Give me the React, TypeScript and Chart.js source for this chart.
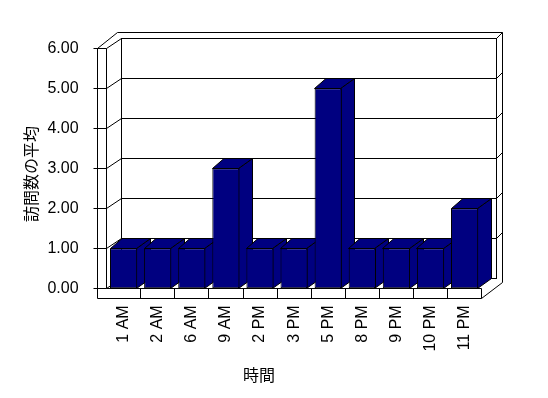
import React, { useEffect, useRef } from "react";
import { Chart, registerables } from "chart.js";

Chart.register(...registerables);

const CATEGORIES = ["1 AM", "2 AM", "6 AM", "9 AM", "2 PM", "3 PM", "5 PM", "8 PM", "9 PM", "10 PM", "11 PM"];
const VISITS = [1, 1, 1, 3, 1, 1, 5, 1, 1, 1, 2];
const Y_TICKS = [0, 1, 2, 3, 4, 5, 6];
const Y_TITLE = "訪問数の平均";
const X_TITLE = "時間";

// style constants
const BAR_COLOR = "#000080";
const DEPTH = { x: 14.7, y: -10 };
const THICK = { x: 6, y: -6 };
const WALL_W = 9.6;
const FLOOR_H = 9.7;
const BAR_DX_L = 11.5;
const BAR_DX_R = 14;
const BAR_DY = -10;
const TICK_FONT = { family: "Liberation Sans", size: 16 };

const px = (v: number) => Math.round(v - 0.5) + 0.5;

const threeD = {
  id: "threeD",
  beforeDatasetsDraw(chart: any) {
    const ctx = chart.ctx;
    const { left: L, right: R } = chart.chartArea;
    const ys = chart.scales.y;
    const xs = chart.scales.x;
    const yv = (v: number) => ys.getPixelForValue(v);
    const Tp = yv(Y_TICKS[Y_TICKS.length - 1]);
    const B = yv(Y_TICKS[0]);
    const xo = L - WALL_W;
    const FB = B + FLOOR_H;
    ctx.save();
    ctx.lineWidth = 1;
    ctx.strokeStyle = "#000";
    const line = (x1: number, y1: number, x2: number, y2: number) => {
      ctx.beginPath();
      ctx.moveTo(px(x1), px(y1));
      ctx.lineTo(px(x2), px(y2));
      ctx.stroke();
    };
    // back wall inner face
    ctx.strokeRect(px(L + DEPTH.x), px(Tp + DEPTH.y), px(R + DEPTH.x) - px(L + DEPTH.x), px(B + DEPTH.y) - px(Tp + DEPTH.y));
    // gridlines on back wall + left wall diagonals + right thickness diagonals
    Y_TICKS.forEach((v) => {
      const y = yv(v);
      line(L + DEPTH.x, y + DEPTH.y, R + DEPTH.x, y + DEPTH.y);
      line(L, y, L + DEPTH.x, y + DEPTH.y);
      if (v > 0) line(R + DEPTH.x, y + DEPTH.y, R + DEPTH.x + THICK.x, y + DEPTH.y + THICK.y);
      // tick + line across left wall front face
      line(xo - 4, y, L, y);
    });
    // outer top line
    line(xo + DEPTH.x + THICK.x, Tp + DEPTH.y + THICK.y, R + DEPTH.x + THICK.x, Tp + DEPTH.y + THICK.y);
    // left wall outer top diagonal
    line(xo, Tp, xo + DEPTH.x + THICK.x, Tp + DEPTH.y + THICK.y);
    // outer right vertical
    line(R + DEPTH.x + THICK.x, Tp + DEPTH.y + THICK.y, R + DEPTH.x + THICK.x, FB + DEPTH.y + THICK.y);
    // floor outer bottom right diagonal
    line(R, FB, R + DEPTH.x + THICK.x, FB + DEPTH.y + THICK.y);
    // front faces of left wall and floor
    line(xo, Tp, xo, FB);
    line(L, Tp, L, B);
    line(xo, FB, R, FB);
    line(L, B, R, B);
    line(R, B, R, FB);
    // category dividers on floor front face
    for (let i = 1; i < CATEGORIES.length; i++) {
      const x = (xs.getPixelForValue(i - 1) + xs.getPixelForValue(i)) / 2;
      line(x, B, x, FB);
    }
    // bar sides and tops
    const meta = chart.getDatasetMeta(0);
    ctx.fillStyle = BAR_COLOR;
    meta.data.forEach((el: any) => {
      const x0 = px(el.x - el.width / 2);
      const x1 = px(el.x + el.width / 2) - 1;
      const yt = px(el.y);
      const yb = px(el.base);
      // side
      ctx.beginPath();
      ctx.moveTo(x1, yt);
      ctx.lineTo(x1 + BAR_DX_R, yt + BAR_DY);
      ctx.lineTo(x1 + BAR_DX_R, yb + BAR_DY);
      ctx.lineTo(x1, yb);
      ctx.closePath();
      ctx.fill();
      ctx.stroke();
      // top
      ctx.beginPath();
      ctx.moveTo(x0, yt);
      ctx.lineTo(x1, yt);
      ctx.lineTo(x1 + BAR_DX_R, yt + BAR_DY);
      ctx.lineTo(x0 + BAR_DX_L, yt + BAR_DY);
      ctx.closePath();
      ctx.fill();
      ctx.stroke();
    });
    ctx.restore();
  },
  afterDraw(chart: any) {
    const ctx = chart.ctx;
    ctx.save();
    ctx.fillStyle = "#000";
    ctx.font = '16px "Noto Sans CJK JP"';
    ctx.textAlign = "center";
    ctx.textBaseline = "middle";
    ctx.fillText(X_TITLE, 259, 375);
    ctx.translate(31, 174);
    ctx.rotate(-Math.PI / 2);
    ctx.fillText(Y_TITLE, 0, 0);
    ctx.restore();
  },
};

export default function App() {
  const ref = useRef<HTMLCanvasElement>(null);
  useEffect(() => {
    if (!ref.current) return;
    const chart = new Chart(ref.current, {
      type: "bar",
      data: {
        labels: CATEGORIES,
        datasets: [
          {
            data: VISITS,
            backgroundColor: BAR_COLOR,
            borderColor: "#000",
            borderWidth: 1,
            borderSkipped: false,
            barPercentage: 0.8,
            categoryPercentage: 1,
          },
        ],
      },
      options: {
        animation: false,
        responsive: false,
        devicePixelRatio: 1,
        layout: { padding: { top: 48.3, right: 66.3, left: 0, bottom: 0 } },
        plugins: { legend: { display: false }, tooltip: { enabled: false } },
        scales: {
          x: {
            type: "category",
            grid: { display: false },
            border: { display: false },
            ticks: {
              autoSkip: false,
              minRotation: 90,
              maxRotation: 90,
              padding: 9,
              color: "#000",
              font: TICK_FONT,
            },
            afterFit: (s: any) => {
              s.height = 398 - 288.3;
            },
          },
          y: {
            min: 0,
            max: 6,
            grid: { display: false },
            border: { display: false },
            afterBuildTicks: (s: any) => {
              s.ticks = Y_TICKS.map((v) => ({ value: v }));
            },
            ticks: {
              padding: 20,
              color: "#000",
              font: TICK_FONT,
              callback: (v: any) => Number(v).toFixed(2),
            },
            afterFit: (s: any) => {
              s.width = 106.6;
            },
          },
        },
      },
      plugins: [threeD],
    });
    return () => chart.destroy();
  }, []);
  return (
    <div style={{ position: "absolute", left: 0, top: 0, width: 548, height: 398, background: "#fff" }}>
      <canvas ref={ref} width={548} height={398} style={{ display: "block" }} />
    </div>
  );
}
